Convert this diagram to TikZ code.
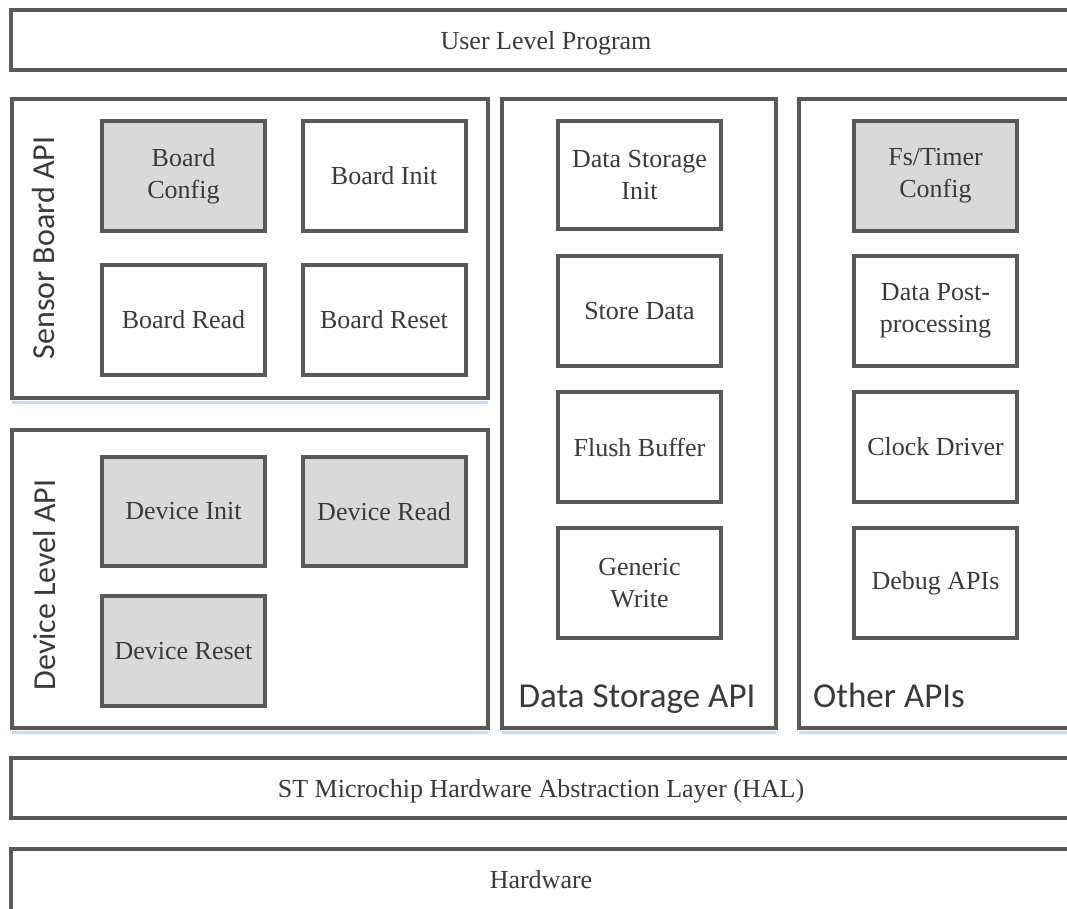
\documentclass[tikz,border=0pt]{standalone}
\usepackage{fontspec}
\setmainfont{Liberation Serif}
\newfontfamily\labelfont{Carlito}
\definecolor{bordergray}{HTML}{595959}
\definecolor{itemgray}{HTML}{D9D9D9}
\definecolor{textgray}{HTML}{3A3A3A}
\definecolor{shadowblue}{HTML}{C9DDF0}
\begin{document}
\begin{tikzpicture}[x=1pt,y=-1pt,
  panel/.style={draw=bordergray, line width=4pt, fill=white, inner sep=0pt, outer sep=0pt,
    text=textgray, font=\fontsize{26}{32}\selectfont, align=center},
  item/.style={panel, minimum width=163pt, minimum height=110pt},
  grayitem/.style={item, fill=itemgray},
  sidelabel/.style={text=textgray, font=\labelfont\fontsize{32}{36}\selectfont, rotate=90, inner sep=0pt},
  baselabel/.style={text=textgray, font=\labelfont\fontsize{35}{40}\selectfont, inner sep=0pt},
  shadowline/.style={shadowblue, line width=3pt}]
\useasboundingbox (0,0) rectangle (1067,909);
\clip (0,0) rectangle (1067,909);

% layers of the stack
\node[panel, text depth=0pt, minimum width=1070pt, minimum height=60pt] (user) at (546,40) {User Level Program};
\node[panel, text depth=0pt, minimum width=1060pt, minimum height=60pt] (hal) at (541,788) {ST Microchip Hardware Abstraction Layer (HAL)};
\node[panel, minimum width=1060pt, minimum height=62pt] (hw) at (541,880) {Hardware};

% API groups
\node[panel, minimum width=476pt, minimum height=299pt] (sensor) at (250,248.5) {};
\node[panel, minimum width=476pt, minimum height=298pt] (device) at (250,579) {};
\node[panel, minimum width=274pt, minimum height=629pt] (storage) at (639,413.5) {};
\node[panel, minimum width=274pt, minimum height=629pt] (other) at (936,413.5) {};

\foreach \p in {sensor,device,storage,other}
  \draw[shadowline] ([yshift=-4.5pt]\p.south west) -- ([yshift=-4.5pt]\p.south east);

\node[sidelabel] (sensorlbl) at (44,248) {Sensor Board API};
\node[sidelabel] (devicelbl) at (44,585) {Device Level API};
\node[baselabel, anchor=base] (storagelbl) at (637,707) {Data Storage API};
\node[baselabel, anchor=base west] (otherlbl) at (813,707) {Other APIs};

% sensor board API
\node[grayitem] (bconfig) at (183.5,176) {Board\\Config};
\node[item] (binit) at (384,176) {Board Init};
\node[item] (bread) at (183.5,320) {Board Read};
\node[item] (breset) at (384,320) {Board Reset};

% device level API
\node[grayitem, minimum height=109pt] (dinit) at (183.5,511.5) {Device Init};
\node[grayitem, minimum height=109pt] (dread) at (384,511.5) {Device Read};
\node[grayitem] (dreset) at (183.5,651) {Device Reset};

% data storage API
\node[item, minimum height=108pt] (sinit) at (639.5,175) {Data Storage\\Init};
\node[item] (sstore) at (639.5,311) {Store Data};
\node[item] (sflush) at (639.5,447) {Flush Buffer};
\node[item] (swrite) at (639.5,583) {Generic\\Write};

% other APIs
\node[grayitem] (ofs) at (935.5,176) {Fs/Timer\\Config};
\node[item] (opost) at (935.5,311) {Data Post-\\processing};
\node[item] (oclock) at (935.5,447) {Clock Driver};
\node[item] (odebug) at (935.5,583) {Debug APIs};
\end{tikzpicture}
\end{document}
